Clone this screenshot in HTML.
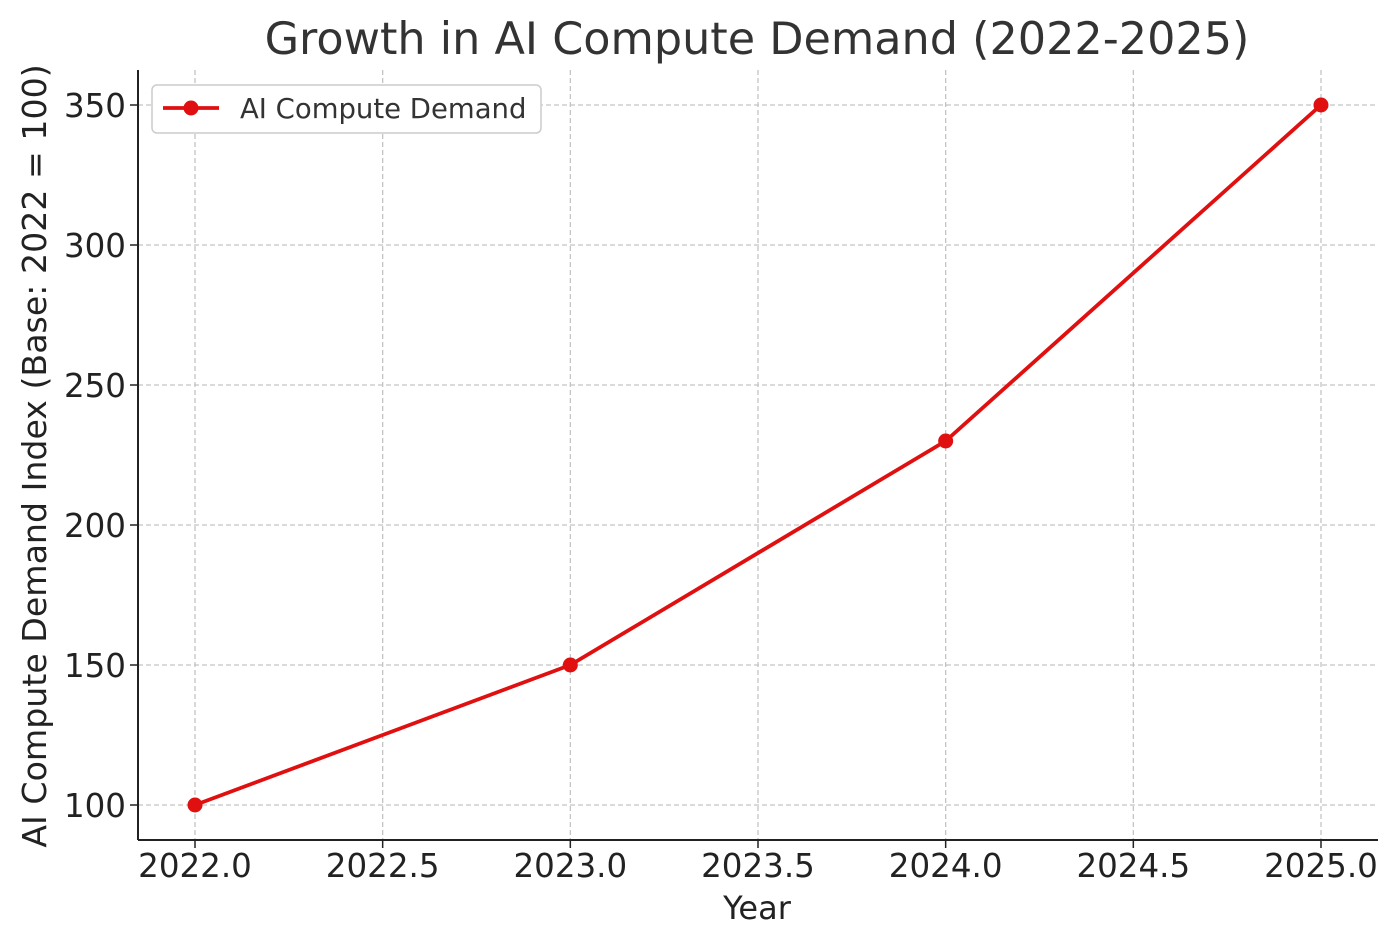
<!DOCTYPE html>
<html><head><meta charset="utf-8"><style>
body{margin:0;background:#fff;}
svg{display:block;font-family:"DejaVu Sans","Liberation Sans",sans-serif;}
</style></head><body>
<svg id="chart" width="1399" height="947" viewBox="0 0 1399 947">
<text x="757" y="54" font-size="44.5" fill="#333" text-anchor="middle">Growth in AI Compute Demand (2022-2025)</text>
<g id="grid"></g>
<g id="ticks"></g>
<g id="series"></g>
<line x1="138" y1="70" x2="138" y2="840" stroke="#222" stroke-width="2"/>
<line x1="138" y1="840" x2="1378" y2="840" stroke="#222" stroke-width="2"/>
<text x="757" y="919" font-size="32" fill="#222" text-anchor="middle">Year</text>
<text transform="translate(46,456) rotate(-90)" font-size="33.2" fill="#222" text-anchor="middle">AI Compute Demand Index (Base: 2022 = 100)</text>
<g>
<rect x="152" y="85" width="389" height="48" rx="5" fill="#fff" stroke="#ccc" stroke-width="1.5"/>
<line x1="163" y1="108" x2="219" y2="108" stroke="#e01010" stroke-width="3.8"/>
<circle cx="191" cy="108" r="7.5" fill="#e01010"/>
<text x="240" y="118" font-size="27.5" fill="#333">AI Compute Demand</text>
</g>
</svg>
<script>
const years=[2022,2023,2024,2025];
const demand=[100,150,230,350];
const xTicks=[2022.0,2022.5,2023.0,2023.5,2024.0,2024.5,2025.0];
const yTicks=[100,150,200,250,300,350];
const NS="http://www.w3.org/2000/svg";
const xs=v=>195+(v-2022)*375.33;
const ys=v=>805-(v-100)*2.8;
function mk(t,a,p){const e=document.createElementNS(NS,t);for(const k in a)e.setAttribute(k,a[k]);p.appendChild(e);return e;}
const grid=document.getElementById('grid'),ticks=document.getElementById('ticks'),ser=document.getElementById('series');
xTicks.forEach(v=>{
 const g=mk('line',{x1:xs(v),x2:xs(v),y1:70,y2:840,stroke:'#c4c4c4','stroke-width':1.3,'stroke-dasharray':'5,3'},grid);
 
 
 const tk=mk('line',{x1:xs(v),x2:xs(v),y1:840,y2:848,stroke:'#222','stroke-width':1.5},ticks);
 
 
 const t=mk('text',{x:xs(v),y:877,'font-size':32.5,fill:'#222','text-anchor':'middle'},ticks);
 t.textContent=v.toFixed(1);
 
 
});
yTicks.forEach(v=>{
 const g=mk('line',{x1:138,x2:1378,y1:ys(v),y2:ys(v),stroke:'#c4c4c4','stroke-width':1.3,'stroke-dasharray':'5,3'},grid);
 
 
 const tk=mk('line',{x1:130,x2:138,y1:ys(v),y2:ys(v),stroke:'#222','stroke-width':1.5},ticks);
 
 
 const t=mk('text',{x:126,y:ys(v)+12,'font-size':32.5,fill:'#222','text-anchor':'end'},ticks);
 t.textContent=v;
 
 
});
const pl=mk('polyline',{points:years.map((y,i)=>xs(y)+','+ys(demand[i])).join(' '),fill:'none',stroke:'#e01010','stroke-width':3.8,'stroke-linejoin':'round'},ser);


years.forEach((y,i)=>{
 const c=mk('circle',{cx:xs(y),cy:ys(demand[i]),r:7.5,fill:'#e01010'},ser);
 
 
});
</script>
</body></html>
